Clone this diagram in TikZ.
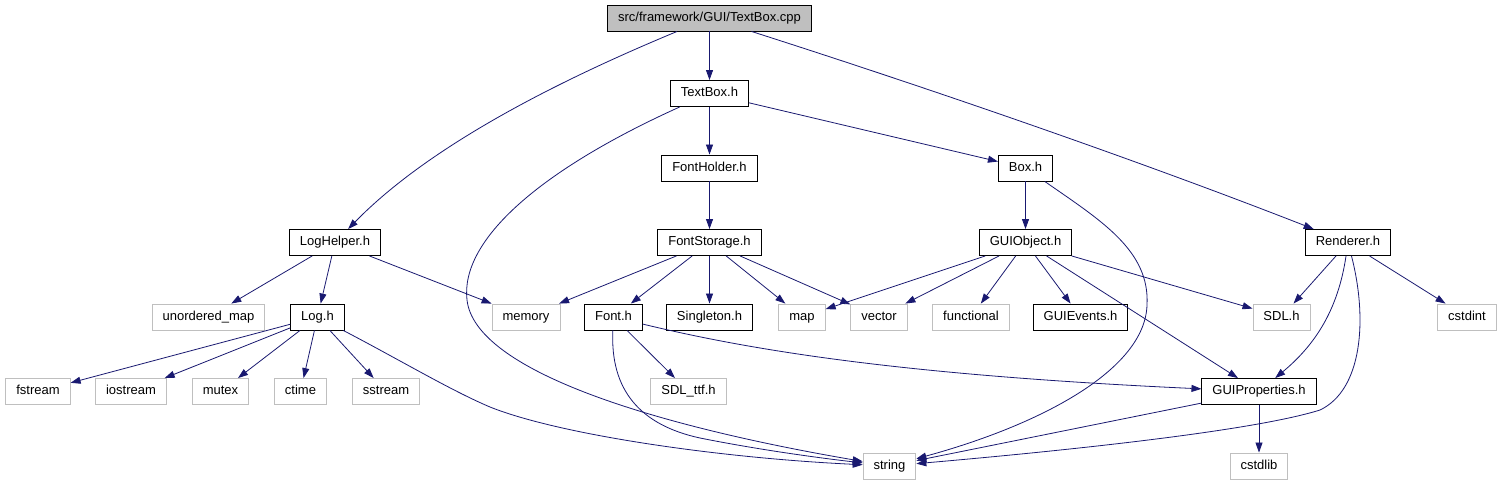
\documentclass[tikz,border=0pt]{standalone}
\usepackage{fontspec}
\setmainfont{Liberation Sans}
\usetikzlibrary{arrows.meta,positioning,calc}
\definecolor{EdgeBlue}{RGB}{25,25,112}
\definecolor{SysGrey}{RGB}{191,191,191}

\begin{document}
\begin{tikzpicture}[x=1pt,y=-1pt,
    hdr/.style={draw=black, line width=0.9pt, minimum height=26pt, inner xsep=10.5pt, inner ysep=0pt,
      text height=9.4pt, text depth=2.7pt, font=\fontsize{13}{15}\selectfont},
    sys/.style={hdr, draw=SysGrey},
    dep/.style={-{Triangle[length=10pt,width=7pt]}, EdgeBlue, line width=0.8pt}]
      \useasboundingbox (0,0) rectangle (1503,485);
      \node[hdr, fill=SysGrey] (root) at (709.5,18) {src/framework/GUI/TextBox.cpp};
      \foreach \n/\x/\y/\t in {textboxh/709.5/93.5/TextBox.h, fontholder/709.5/168/FontHolder.h,
          boxh/1025.5/168/Box.h, fontstorage/709.5/242.5/FontStorage.h, guiobject/1025.5/242.5/GUIObject.h,
          renderer/1348/242.5/Renderer.h, loghelper/335/242.5/LogHelper.h, logh/317.5/317/Log.h,
          fonth/613.5/317/Font.h, singleton/709.5/317/Singleton.h, guievents/1080.5/317/GUIEvents.h,
          guiprops/1259/391.5/GUIProperties.h} {
        \node[hdr] (\n) at (\x,\y) {\t};
      }
      \foreach \n/\x/\y/\t in {unorderedmap/208.5/317/unordered\_map, memory/526/317/memory,
          map/802/317/map, vector/879/317/vector, functional/971/317/functional, sdlh/1281.5/317/SDL.h,
          cstdint/1467/317/cstdint, fstream/38/391.5/fstream, iostream/131/391.5/iostream,
          mutex/220.5/391.5/mutex, ctime/300.5/391.5/ctime, sstream/386/391.5/sstream,
          sdlttf/688.5/391.5/SDL\_ttf.h, string/889.5/466/string, cstdlib/1259/466/cstdlib} {
        \node[sys] (\n) at (\x,\y) {\t};
      }
      \foreach \a/\b in {root/textboxh, textboxh/fontholder, textboxh/boxh, fontholder/fontstorage,
          boxh/guiobject, fontstorage/memory, fontstorage/fonth, fontstorage/singleton, fontstorage/map,
          fontstorage/vector, guiobject/map, guiobject/vector, guiobject/functional, guiobject/guievents,
          guiobject/sdlh, guiobject/guiprops, renderer/sdlh, renderer/cstdint, loghelper/unorderedmap,
          loghelper/logh, loghelper/memory, logh/fstream, logh/iostream, logh/mutex, logh/ctime,
          logh/sstream, fonth/sdlttf, guiprops/string, guiprops/cstdlib} {
        \draw[dep] (\a) -- (\b);
      }
      \draw[dep] (root) .. controls (560,80) and (430,145) .. (loghelper);
      \draw[dep] (root) .. controls (950,95) and (1150,165) .. (renderer);
      \draw[dep] (textboxh) .. controls (540,170) and (460,240) .. (467,300)
        .. controls (475,370) and (650,425) .. (string);
      \draw[dep] (boxh) .. controls (1100,220) and (1150,250) .. (1147,305)
        .. controls (1145,370) and (1040,425) .. (string);
      \draw[dep] (renderer) .. controls (1368,320) and (1362,390) .. (1320,410)
        .. controls (1250,432) and (1050,452) .. (string);
      \draw[dep] (renderer) .. controls (1338,310) and (1315,345) .. (guiprops);
      \draw[dep] (logh) .. controls (400,360) and (450,390) .. (490,407)
        .. controls (560,435) and (720,458) .. (string);
      \draw[dep] (fonth) .. controls (610,390) and (640,425) .. (700,438)
        .. controls (760,450) and (820,458) .. (string);
      \draw[dep] (fonth) .. controls (750,350) and (900,375) .. (guiprops);
    \end{tikzpicture}
\end{document}
